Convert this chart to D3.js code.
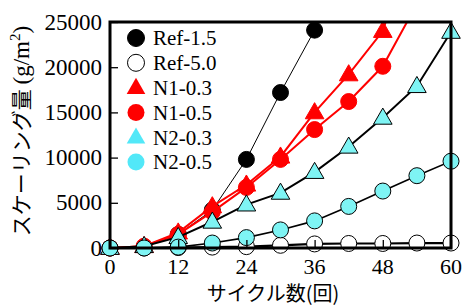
<!DOCTYPE html>
<html><head><meta charset="utf-8">
<script src="https://cdn.jsdelivr.net/npm/d3@7"></script>
<style>body{margin:0;background:#fff}svg{display:block}
.sf{font-family:"Liberation Serif","Times New Roman",Times,"DejaVu Serif",serif}
.jp{font-family:"Noto Sans CJK JP","Noto Sans CJK SC",sans-serif}
</style>
</head><body><svg id="c" width="462" height="306"></svg>
<script>
const cycles = [0, 6, 12, 18, 24, 30, 36, 42, 48, 54, 60];
const seriesNames = ["Ref-1.5", "Ref-5.0", "N1-0.3", "N1-0.5", "N2-0.3", "N2-0.5"];
const ref15 = [0, 100, 1500, 4200, 9800, 17200, 24100];
const ref50 = [0, 0, 50, 100, 150, 300, 450, 500, 500, 550, 550];
const n1_03 = [0, 200, 1700, 4600, 7000, 10100, 15000, 19200, 24000, 36000];
const n1_05 = [0, 200, 1500, 4000, 6700, 9800, 13100, 16200, 20100, 27000];
const n2_03 = [0, 200, 1200, 2900, 4800, 6100, 8400, 11200, 14400, 17900, 23900];
const n2_05 = [0, 0, 100, 550, 1150, 2000, 3000, 4600, 6300, 8000, 9600];
const xTicks = [0, 12, 24, 36, 48, 60];
const yTicks = [0, 5000, 10000, 15000, 20000, 25000];

const svg = d3.select("#c");
const L = 110, R = 451, T = 22, B = 248;
const x = d3.scaleLinear().domain([0, 60]).range([L, R]);
const y = d3.scaleLinear().domain([0, 25000]).range([B, T]);

const styles = [
  {data: ref15, shape: "circle", fill: "#000", stroke: "#000", line: "#000", lw: 1, lfill: "#000", lstroke: "#000"},
  {data: ref50, shape: "circle", fill: "#fff", stroke: "#000", line: "#000", lw: 2.2, lfill: "#fff", lstroke: "#000"},
  {data: n1_03, shape: "tri", fill: "#ff0000", stroke: "#ff0000", line: "#ff0000", lw: 2, lfill: "#ff0000", lstroke: "none"},
  {data: n1_05, shape: "circle", fill: "#ff0000", stroke: "#ff0000", line: "#ff0000", lw: 2, lfill: "#ff0000", lstroke: "none"},
  {data: n2_03, shape: "tri", fill: "#7ef4f4", stroke: "#000", line: "#000", lw: 2, lfill: "#52e8f8", lstroke: "none"},
  {data: n2_05, shape: "circle", fill: "#7ef4f4", stroke: "#000", line: "#000", lw: 1.6, lfill: "#52e8f8", lstroke: "none"}
];

svg.append("defs").append("clipPath").attr("id", "clip")
  .append("rect").attr("x", L).attr("y", T).attr("width", R - L).attr("height", B - T);

const triPath = d3.symbol().type(d3.symbolTriangle).size(150);

styles.forEach(s => {
  const pts = s.data.map((v, i) => [cycles[i], v]);
  svg.append("path").attr("clip-path", "url(#clip)")
    .attr("d", d3.line().x(d => x(d[0])).y(d => y(d[1]))(pts))
    .attr("fill", "none").attr("stroke", s.line).attr("stroke-width", s.lw);
  const vis = pts.filter(d => d[1] <= 25000);
  if (s.shape === "circle") {
    svg.selectAll(null).data(vis).enter().append("circle")
      .attr("cx", d => x(d[0])).attr("cy", d => y(d[1])).attr("r", 8)
      .attr("fill", s.fill).attr("stroke", s.stroke).attr("stroke-width", 1);
  } else {
    svg.selectAll(null).data(vis).enter().append("path")
      .attr("d", triPath)
      .attr("transform", d => `translate(${x(d[0])},${y(d[1]) + 1})`)
      .attr("fill", s.fill).attr("stroke", s.stroke).attr("stroke-width", 1);
  }
});

// frame
svg.append("rect").attr("x", L).attr("y", T).attr("width", R - L).attr("height", B - T)
  .attr("fill", "none").attr("stroke", "#000").attr("stroke-width", 3);

// y axis (inward ticks)
const ya = svg.append("g").attr("transform", `translate(${L},0)`)
  .call(d3.axisRight(y).tickValues(yTicks).tickSize(8).tickFormat(""));
ya.select(".domain").remove();
ya.selectAll("line").attr("stroke", "#000").attr("stroke-width", 1.3);
svg.selectAll(null).data(yTicks).enter().append("text").attr("class", "sf")
  .attr("x", L - 8).attr("y", d => y(d)).attr("dy", "0.33em")
  .attr("text-anchor", "end").attr("font-size", 23)
  .text(d => d);

// x axis (inward ticks)
const xa = svg.append("g").attr("transform", `translate(0,${B})`)
  .call(d3.axisTop(x).tickValues(xTicks).tickSize(8).tickFormat(""));
xa.select(".domain").remove();
xa.selectAll("line").attr("stroke", "#000").attr("stroke-width", 1.3);
svg.selectAll(null).data(xTicks).enter().append("text").attr("class", "sf")
  .attr("x", d => x(d)).attr("y", 274)
  .attr("text-anchor", "middle").attr("font-size", 22)
  .text(d => d);

// axis titles
svg.append("text").attr("class", "jp").attr("x", 273).attr("y", 301).attr("text-anchor", "middle")
  .attr("font-size", 20).text("サイクル数(回)");

const yt = svg.append("text").attr("transform", "translate(29,131) rotate(-90)")
  .attr("text-anchor", "middle").attr("font-size", 21);
yt.append("tspan").attr("class", "jp").text("スケーリング量 ");
yt.append("tspan").attr("class", "sf").attr("font-size", 23).text("(g/m");
yt.append("tspan").attr("class", "sf").attr("font-size", 15).attr("dy", -9).text("2");
yt.append("tspan").attr("class", "sf").attr("font-size", 23).attr("dy", 9).text(")");

// legend
const lg = svg.append("g");
styles.forEach((s, i) => {
  const ly = 38 + i * 24.8;
  if (s.shape === "circle") {
    lg.append("circle").attr("cx", 136).attr("cy", ly).attr("r", 8.5)
      .attr("fill", s.lfill).attr("stroke", s.lstroke).attr("stroke-width", 1);
  } else {
    lg.append("path").attr("d", triPath).attr("transform", `translate(136,${ly + 1})`)
      .attr("fill", s.lfill).attr("stroke", s.lstroke);
  }
  lg.append("text").attr("class", "sf").attr("x", 153).attr("y", ly).attr("dy", "0.35em")
    .attr("font-size", 21).text(seriesNames[i]);
});
</script></body></html>
